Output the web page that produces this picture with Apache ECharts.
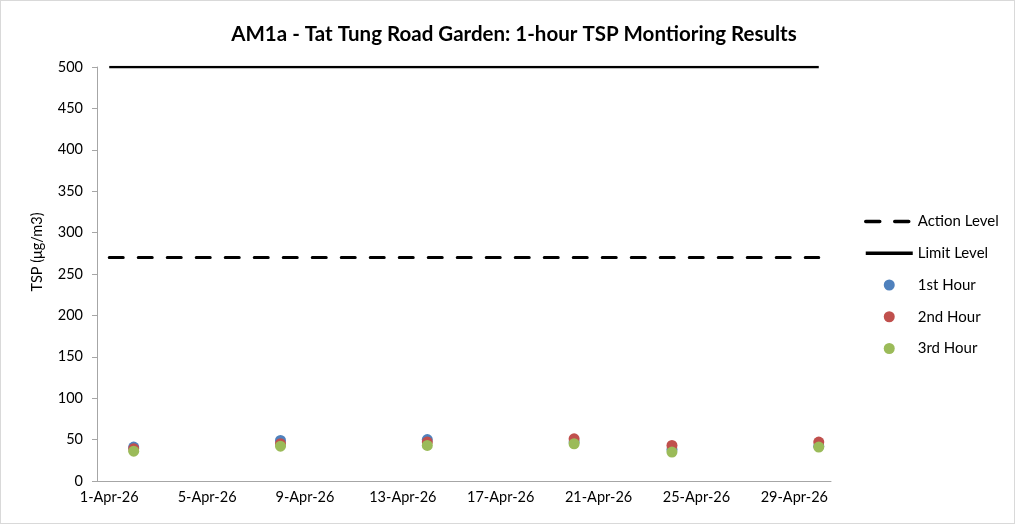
<!DOCTYPE html>
<html>
<head>
<meta charset="utf-8">
<script src="https://cdn.jsdelivr.net/npm/echarts@6/dist/echarts.min.js"></script>
<style>
  html, body { margin: 0; padding: 0; background: #fff; }
  #chart { width: 1013px; height: 522px; border: 1px solid #d9d9d9; }
</style>
</head>
<body>
<div id="chart"></div>
<script>
// dates on the axis: 1-Apr-26 .. 30-Apr-26
var days = [];
for (var d = 1; d <= 30; d++) {
    days.push(d + '-Apr-26');
}
var sampleDays = ['2-Apr-26', '8-Apr-26', '14-Apr-26', '20-Apr-26', '24-Apr-26', '30-Apr-26'];
var hour1 = [41, 49, 50, 47, 38, 42];
var hour2 = [39, 45, 47, 51, 43, 47];
var hour3 = [36, 42, 43, 45, 35, 41];
var actionLevel = 270;
var limitLevel = 500;

function pairs(vals) {
    var out = [];
    for (var i = 0; i < vals.length; i++) {
        out.push([sampleDays[i], vals[i]]);
    }
    return out;
}
var actionData = days.map(function () { return actionLevel; });
var limitData = days.map(function () { return limitLevel; });

var chart = echarts.init(document.getElementById('chart'));
var font = 'Lato, "Open Sans", sans-serif';

var option = {
    animation: false,
    title: {
        text: 'AM1a - Tat Tung Road Garden: 1-hour TSP Montioring Results',
        left: 508,
        textAlign: 'center',
        top: 18,
        textStyle: { fontFamily: font, fontSize: 20.5, fontWeight: 'bold', color: '#000' }
    },
    legend: {
        orient: 'vertical',
        left: 858,
        top: 208,
        itemWidth: 47,
        itemHeight: 11,
        itemGap: 16.75,
        textStyle: { fontFamily: font, fontSize: 15, color: '#000' },
        data: [
            { name: 'Action Level', itemStyle: { opacity: 0 }, lineStyle: { width: 3.5, type: [14, 15], cap: 'round' } },
            { name: 'Limit Level', itemStyle: { opacity: 0 }, lineStyle: { width: 3.5 } },
            { name: '1st Hour', icon: 'circle' },
            { name: '2nd Hour', icon: 'circle' },
            { name: '3rd Hour', icon: 'circle' }
        ]
    },
    grid: { left: 96, right: 183, top: 66, bottom: 42, containLabel: false },
    xAxis: {
        type: 'category',
        data: days,
        boundaryGap: true,
        axisLine: { lineStyle: { color: '#a6a6a6' } },
        axisTick: { interval: 3, length: 5, lineStyle: { color: '#a6a6a6' } },
        axisLabel: { interval: 3, color: '#000', fontFamily: font, fontSize: 14.5, margin: 9 },
        splitLine: { show: false }
    },
    yAxis: {
        type: 'value',
        min: 0,
        max: 500,
        interval: 50,
        name: 'TSP (μg/m3)',
        nameLocation: 'middle',
        nameGap: 52,
        nameTextStyle: { fontFamily: font, fontSize: 14.5, color: '#000', padding: [0, 0, 0, 44] },
        axisLine: { show: true, lineStyle: { color: '#a6a6a6' } },
        axisTick: { show: true, inside: false, length: 5, lineStyle: { color: '#a6a6a6' } },
        axisLabel: { color: '#000', fontFamily: font, fontSize: 14.5, margin: 14 },
        splitLine: { show: false }
    },
    series: [
        {
            name: 'Action Level',
            type: 'line',
            data: actionData,
            symbol: 'none',
            itemStyle: { color: '#000' },
            lineStyle: { color: '#000', width: 3, type: [14, 15], cap: 'round' },
            z: 2
        },
        {
            name: 'Limit Level',
            type: 'line',
            data: limitData,
            symbol: 'none',
            itemStyle: { color: '#000' },
            lineStyle: { color: '#000', width: 2.5 },
            z: 2
        },
        {
            name: '1st Hour',
            type: 'scatter',
            data: pairs(hour1),
            symbolSize: 11,
            itemStyle: { color: '#4F81BD', opacity: 1 },
            z: 3
        },
        {
            name: '2nd Hour',
            type: 'scatter',
            data: pairs(hour2),
            symbolSize: 11,
            itemStyle: { color: '#C0504D', opacity: 1 },
            z: 4
        },
        {
            name: '3rd Hour',
            type: 'scatter',
            data: pairs(hour3),
            symbolSize: 11,
            itemStyle: { color: '#9BBB59', opacity: 1 },
            z: 5
        }
    ]
};

chart.setOption(option);
</script>
</body>
</html>
